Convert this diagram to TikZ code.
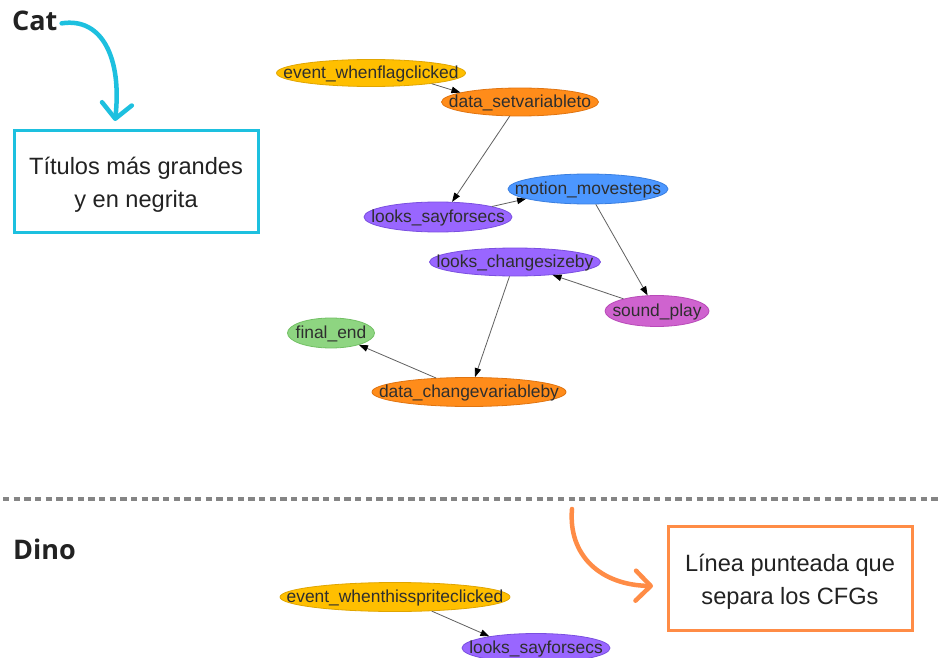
\documentclass[tikz,border=0pt]{standalone}
\usepackage{fontspec}
\setmainfont{Liberation Sans}
\newfontfamily\headfont{Open Sans}
\usetikzlibrary{arrows.meta,shapes.geometric}

% block palette
\definecolor{evfill}{HTML}{FFBF00}\definecolor{evline}{HTML}{E0A500}
\definecolor{dtfill}{HTML}{FF8C1A}\definecolor{dtline}{HTML}{E07410}
\definecolor{lkfill}{HTML}{9966FF}\definecolor{lkline}{HTML}{7A4FE0}
\definecolor{mvfill}{HTML}{4C97FF}\definecolor{mvline}{HTML}{3A7FE0}
\definecolor{sdfill}{HTML}{CF63CF}\definecolor{sdline}{HTML}{B84AB8}
\definecolor{fnfill}{HTML}{8ED581}\definecolor{fnline}{HTML}{72C064}
\definecolor{nodetext}{HTML}{2E2E2E}
\definecolor{edgegray}{HTML}{606060}
\definecolor{notecyan}{HTML}{1DC0DF}
\definecolor{noteorange}{HTML}{FF8C46}
\definecolor{sepgray}{HTML}{858585}
\definecolor{inktext}{HTML}{222222}

% label centred on the node without widening the ellipse
\newcommand\blocklabel[1]{\smash{\makebox[0pt]{\raisebox{-0.3em}{#1}}}}
% extra head room on the first line of a note
\newcommand\noteroom{\rule{0pt}{1.0em}}

\begin{document}
\begin{tikzpicture}[x=1pt,y=-1pt,
  block/.style={ellipse, inner sep=0pt, line width=0.8pt, text=nodetext,
    font=\fontsize{17.4}{17.4}\selectfont},
  evblk/.style={block, fill=evfill, draw=evline},
  dtblk/.style={block, fill=dtfill, draw=dtline},
  lkblk/.style={block, fill=lkfill, draw=lkline},
  mvblk/.style={block, fill=mvfill, draw=mvline},
  sdblk/.style={block, fill=sdfill, draw=sdline},
  fnblk/.style={block, fill=fnfill, draw=fnline},
  flow/.style={draw=edgegray, line width=0.8pt,
    -{Triangle[length=9pt,width=6.5pt,color=black]}},
  heading/.style={anchor=base west, inner sep=0pt, text=inktext,
    font=\headfont\bfseries\fontsize{27}{27}\selectfont},
  note/.style={rectangle, line width=3pt, inner sep=0pt, align=center,
    text=inktext, font=\fontsize{23.6}{32.8}\selectfont},
  handarrow/.style={line width=4.5pt, line cap=round,
    -{Straight Barb[length=15pt,width=30pt,round]}}]

\useasboundingbox (0,0) rectangle (940,658);
\clip (0,0) rectangle (940,658);
\fill[white] (0,0) rectangle (940,658);

% ---------- Cat ----------
\node[heading] (cat) at (12,31) {Cat};

\node[evblk, minimum width=189pt, minimum height=27pt] (c1) at (371,73)  {\blocklabel{event\_whenflagclicked}};
\node[dtblk, minimum width=157pt, minimum height=28pt] (c2) at (520,102) {\blocklabel{data\_setvariableto}};
\node[lkblk, minimum width=148pt, minimum height=30pt] (c3) at (438,217) {\blocklabel{looks\_sayforsecs}};
\node[mvblk, minimum width=160pt, minimum height=30pt] (c4) at (588,189) {\blocklabel{motion\_movesteps}};
\node[sdblk, minimum width=104pt, minimum height=31pt] (c5) at (657,311) {\blocklabel{sound\_play}};
\node[lkblk, minimum width=171pt, minimum height=28pt] (c6) at (515,262) {\blocklabel{looks\_changesizeby}};
\node[dtblk, minimum width=194pt, minimum height=29pt] (c7) at (469,392) {\blocklabel{data\_changevariableby}};
\node[fnblk, minimum width=87pt,  minimum height=30pt] (c8) at (331,333) {\blocklabel{final\_end}};

\draw[flow] (c1.-10)  -- (c2.171);
\draw[flow] (c2.234)  -- (c3.47);
\draw[flow] (c3.11)   -- (c4.189);
\draw[flow] (c4.-63)  -- (c5.121);
\draw[flow] (c5.160)  -- (c6.-19);
\draw[flow] (c6.249)  -- (c7.68);
\draw[flow] (c7.157)  -- (c8.-23);

% note on the headings
\node[note, draw=notecyan, minimum width=244pt, minimum height=101pt] (headnote) at (136,181.5)
  {\noteroom Títulos más grandes\\y en negrita};
\coordinate (cyantip) at (115,121);
\draw[handarrow, notecyan] ([xshift=4pt,yshift=-2pt]cat.east)
  .. controls (102,17) and (122,58) .. (cyantip);

% ---------- separator ----------
\coordinate (sepL) at (3,499);
\coordinate (sepR) at (940,499);
\draw[sepgray, line width=4pt, dash pattern=on 6.3pt off 4.37pt] (sepL) -- (sepR);

% ---------- Dino ----------
\node[heading] (dino) at (13,559) {Dino};

\node[evblk, minimum width=230pt, minimum height=29pt] (d1) at (395,597) {\blocklabel{event\_whenthisspriteclicked}};
\node[lkblk, minimum width=148pt, minimum height=29pt] (d2) at (536,648) {\blocklabel{looks\_sayforsecs}};
\draw[flow] (d1.-21) -- (d2.166);

% note on the separator
\node[note, draw=noteorange, minimum width=244pt, minimum height=104pt] (sepnote) at (790,578.5)
  {\noteroom Línea punteada que\\separa los CFGs};
\coordinate (orgstart) at (572,509);
\coordinate (orgtip) at (653,586);
\draw[handarrow, noteorange] (orgstart)
  .. controls (568,555) and (600,585) .. (orgtip);

\end{tikzpicture}
\end{document}
